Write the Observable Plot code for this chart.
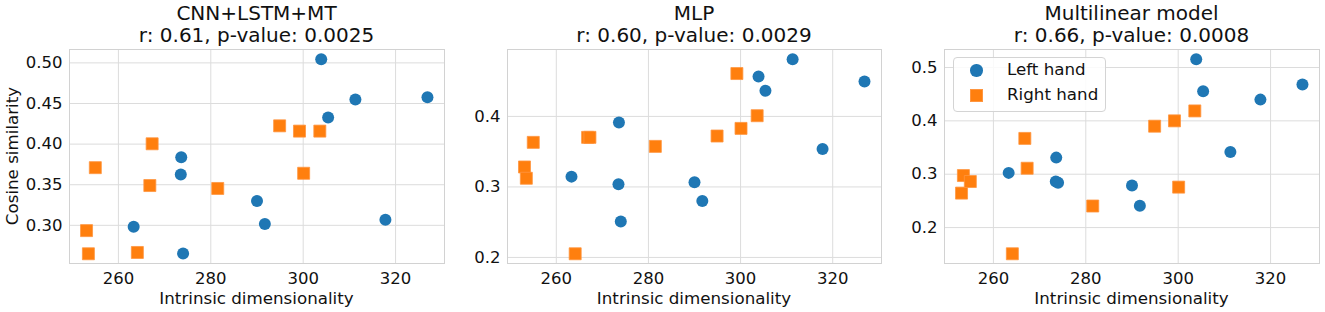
<!DOCTYPE html>
<html><head><meta charset="utf-8">
<script src="https://cdn.jsdelivr.net/npm/d3@7"></script>
<script src="https://cdn.jsdelivr.net/npm/@observablehq/plot@0.6"></script>
<style>
body{margin:0;background:#fff;font-family:"DejaVu Sans",sans-serif;color:#111}
#root{position:relative;width:1325px;height:312px;overflow:hidden}
.abs{position:absolute}
.title{font-size:20px;line-height:22px;text-align:center;white-space:nowrap}
.lab{font-size:16.7px;line-height:1;text-align:center;white-space:nowrap}
.legend{box-sizing:border-box;border:1px solid #d4d4d4;border-radius:4px;background:rgba(255,255,255,0.85)}
.legtext{font-size:16.7px;line-height:1;white-space:nowrap}
</style>
</head><body><div id="root"></div>
<script>
const panelTitles = ["CNN+LSTM+MT", "MLP", "Multilinear model"];
const panelStats = ["r: 0.61, p-value: 0.0025", "r: 0.60, p-value: 0.0029", "r: 0.66, p-value: 0.0008"];
const seriesNames = ["Left hand", "Right hand"];
const xLabel = "Intrinsic dimensionality";
const yLabel = "Cosine similarity";

const leftX  = [263.3, 273.5, 273.6, 274.0, 290.0, 291.7, 303.9, 305.4, 311.3, 317.8, 326.9];
const rightX = [253.1, 253.5, 255.0, 264.1, 266.8, 267.3, 281.5, 294.9, 299.2, 300.1, 303.6];

const leftCnn    = [0.2984, 0.3625, 0.3837, 0.2654, 0.3299, 0.3017, 0.5045, 0.4327, 0.4550, 0.3070, 0.4576];
const rightCnn   = [0.2935, 0.2650, 0.3710, 0.2666, 0.3490, 0.4004, 0.3454, 0.4225, 0.4160, 0.3641, 0.4160];
const leftMlp    = [0.3146, 0.3038, 0.3915, 0.2509, 0.3066, 0.2802, 0.4566, 0.4363, 0.4811, 0.3538, 0.4495];
const rightMlp   = [0.3283, 0.3123, 0.3632, 0.2052, 0.3703, 0.3703, 0.3575, 0.3722, 0.4608, 0.3830, 0.4010];
const leftMulti  = [0.3025, 0.2863, 0.3311, 0.2839, 0.2789, 0.2410, 0.5155, 0.4553, 0.3416, 0.4398, 0.4683];
const rightMulti = [0.2646, 0.2975, 0.2863, 0.1509, 0.3671, 0.3112, 0.2404, 0.3900, 0.4000, 0.2758, 0.4186];

const xTicks = [260, 280, 300, 320];
const yTicksCnn = [0.30, 0.35, 0.40, 0.45, 0.50];
const yTicksMlp = [0.2, 0.3, 0.4];
const yTicksMulti = [0.2, 0.3, 0.4, 0.5];

const blue = "#1f77b4", orange = "#ff7f0e", gridColor = "#dcdcdc", frameColor = "#d2d2d2";
const root = document.getElementById("root");

function pad(vals) {
  const [a, b] = d3.extent(vals); const m = (b - a) * 0.05; return [a - m, b + m];
}
function el(cls, style, text) {
  const d = document.createElement("div"); d.className = cls; Object.assign(d.style, style);
  if (text != null) d.textContent = text; root.appendChild(d); return d;
}

const panels = [
  {left: 0,   width: 446, ml: 69, mr: 2, lY: leftCnn,   rY: rightCnn,   yTicks: yTicksCnn,   fmt: ".2f", ylab: true},
  {left: 450, width: 432, ml: 57, mr: 1, lY: leftMlp,   rY: rightMlp,   yTicks: yTicksMlp,   fmt: ".1f"},
  {left: 888, width: 433, ml: 56, mr: 2, lY: leftMulti, rY: rightMulti, yTicks: yTicksMulti, fmt: ".1f", legend: true}
];
const svgTop = 40, svgH = 272, mt = 9, mb = 49;

panels.forEach((p, i) => {
  const left = leftX.map((x, j) => ({x, y: p.lY[j]}));
  const right = rightX.map((x, j) => ({x, y: p.rY[j]}));
  const xd = pad(leftX.concat(rightX));
  const yd = pad(p.lY.concat(p.rY));
  const chart = Plot.plot({
    width: p.width, height: svgH,
    marginTop: mt, marginBottom: mb, marginLeft: p.ml, marginRight: p.mr,
    style: {fontSize: "16.5px", fontFamily: "DejaVu Sans", color: "#111", background: "transparent", overflow: "visible"},
    x: {domain: xd, ticks: xTicks, tickSize: 0, tickPadding: 9, label: null, tickFormat: d3.format("d")},
    y: {domain: yd, ticks: p.yTicks, tickSize: 0, tickPadding: 7, label: null, tickFormat: d3.format(p.fmt)},
    marks: [
      Plot.ruleX(xTicks, {stroke: gridColor, strokeWidth: 1}),
      Plot.ruleY(p.yTicks, {stroke: gridColor, strokeWidth: 1}),
      Plot.frame({stroke: frameColor}),
      Plot.dot(left, {x: "x", y: "y", r: 6, fill: blue, symbol: "circle"}),
      Plot.dot(right, {x: "x", y: "y", r: 6.77, fill: orange, stroke: "#ff9640", strokeWidth: 0.8, symbol: "square"})
    ]
  });
  const wrap = el("abs", {left: p.left + "px", top: svgTop + "px"});
  wrap.appendChild(chart);

  const fl = p.left + p.ml, fw = p.width - p.ml - p.mr;
  el("abs title", {left: fl + "px", top: "2px", width: fw + "px"}, panelTitles[i]);
  el("abs title", {left: fl + "px", top: "24px", width: fw + "px"}, panelStats[i]);
  el("abs lab", {left: fl + "px", top: "290px", width: fw + "px"}, xLabel);
  if (p.ylab) {
    el("abs lab", {left: "12px", top: "156px", transform: "translate(-50%,-50%) rotate(-90deg)"}, yLabel);
  }
  if (p.legend) {
    el("abs legend", {left: "953px", top: "57px", width: "153px", height: "55px"});
    const colors = [blue, orange];
    seriesNames.forEach((name, k) => {
      const cy = 70.7 + k * 25;
      const s = 12.5;
      el("abs", {left: (976.7 - s / 2) + "px", top: (cy - s / 2) + "px", width: s + "px", height: s + "px",
        background: colors[k], borderRadius: k === 0 ? "50%" : "0", boxSizing: "border-box",
        border: k === 1 ? "0.8px solid #ff9640" : "none"});
      el("abs legtext", {left: "1007px", top: (cy - 8.35 - 1) + "px"}, name);
    });
  }
});
</script></body></html>
